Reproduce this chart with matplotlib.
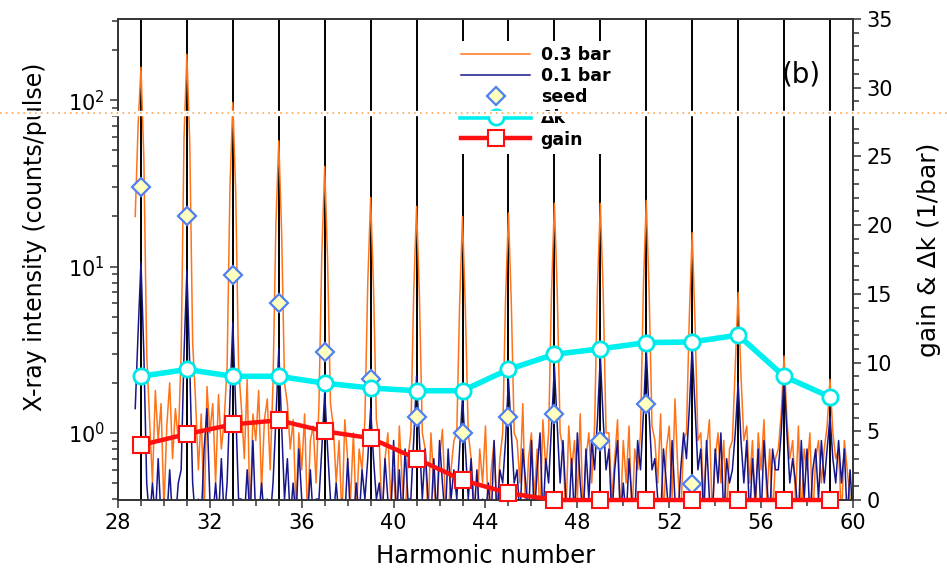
import numpy as np
import matplotlib
matplotlib.use("Agg")
import matplotlib.pyplot as plt
from matplotlib.lines import Line2D
from matplotlib.patches import Rectangle
from matplotlib.ticker import MultipleLocator, LogLocator, NullFormatter

# harmonic orders (odd) and per-harmonic quantities
harmonics = [29, 31, 33, 35, 37, 39, 41, 43, 45, 47, 49, 51, 53, 55, 57, 59]
seed_harmonics = [29, 31, 33, 35, 37, 39, 41, 43, 45, 47, 49, 51, 53]
seed = [29.9, 20.0, 8.95, 6.0, 3.05, 2.1, 1.24, 1.0, 1.25, 1.3, 0.9, 1.49, 0.49]
delta_k = [9.0, 9.5, 9.0, 9.0, 8.5, 8.15, 7.95, 7.95, 9.5, 10.6, 11.0, 11.45, 11.5, 12.0, 9.0, 7.5]
gain = [4.0, 4.8, 5.5, 5.8, 5.0, 4.5, 3.0, 1.45, 0.5, 0, 0, 0, 0, 0, 0, 0]

# spectra sampled every 1/8 harmonic starting at 28.75 (one row per harmonic)
spec_start = 28.75
spec_step = 0.125
counts_03bar = [
    20, 70, 158, 45, 3,     1.2, 0.5, 1.8, 0.9, 1.5, 0.35, 1.1, 2.0, 0.7, 1.4, 0.9,
    3, 60, 189, 55, 3.5,    1.6, 0.6, 1.3, 0.3, 1.9, 1.0, 1.5, 0.5, 1.7, 0.8, 1.2,
    2.5, 30, 97, 28, 2.5,   1.4, 0.7, 2.1, 0.3, 1.3, 0.9, 1.8, 0.45, 1.2, 1.6, 0.6,
    2, 18, 57, 16, 2,       1.5, 0.8, 1.2, 0.35, 1.0, 0.6, 1.3, 0.3, 0.9, 1.1, 0.5,
    1.5, 12, 40, 11, 1.5,   1.1, 0.5, 0.9, 0.3, 1.2, 0.7, 0.4, 1.0, 0.3, 0.8, 0.6,
    1.2, 8, 26, 7.5, 1.2,   0.9, 0.3, 0.7, 1.0, 0.4, 0.6, 0.3, 1.1, 0.5, 0.3, 0.7,
    1.0, 7, 23, 6.5, 1.0,   0.8, 0.3, 1.0, 0.5, 0.3, 0.7, 1.05, 0.4, 0.3, 0.6, 0.9,
    1.0, 6, 20, 5.5, 1.0,   0.7, 0.4, 0.3, 0.8, 0.5, 1.1, 0.3, 0.6, 0.9, 0.3, 0.7,
    1.0, 6.5, 21, 6, 1.0,   0.9, 0.5, 1.5, 0.3, 0.7, 1.0, 0.4, 0.8, 0.3, 1.2, 0.6,
    1.0, 7, 24, 7, 1.0,     0.8, 0.3, 1.1, 0.6, 0.9, 0.4, 1.3, 0.3, 0.7, 1.0, 0.5,
    1.1, 7.5, 24, 7, 1.0,   1.0, 0.4, 0.7, 1.2, 0.3, 0.9, 0.5, 1.1, 0.3, 0.8, 0.6,
    1.0, 7.5, 25, 7, 1.1,   0.9, 0.5, 1.3, 0.3, 0.8, 1.1, 0.4, 1.6, 0.6, 0.3, 0.9,
    1.0, 5, 16, 4.5, 0.9,   1.0, 0.4, 0.8, 1.2, 0.3, 0.7, 1.0, 0.5, 0.9, 0.3, 0.8,
    0.9, 2.5, 7, 2.2, 0.9,  1.1, 0.5, 0.9, 0.3, 1.0, 0.6, 1.2, 0.4, 0.8, 0.3, 0.7,
    0.8, 1.3, 2.9, 1.2, 0.7, 0.9, 0.4, 1.1, 0.3, 0.8, 0.6, 1.0, 0.3, 0.7, 0.9, 0.5,
    0.8, 1.1, 2.1, 1.0, 0.7, 0.8, 0.3, 0.9, 0.6, 0.4, 0.3, 0.8, 0.5, 0.3, 0.6, 0.4,
]
counts_01bar = [
    1.4, 4, 10.6, 3, 0.5,   0.3, 0.5, 0.3, 0.7, 0.3, 0.4, 0.3, 0.6, 0.3, 0.3, 0.5,
    0.6, 3, 9.5, 2.5, 0.5,  0.3, 0.4, 0.3, 0.8, 1.4, 0.4, 0.3, 0.5, 0.3, 0.7, 0.3,
    0.5, 1.6, 4.6, 1.4, 0.4, 0.4, 0.3, 0.6, 0.3, 0.9, 0.3, 0.3, 0.5, 0.3, 0.4, 0.3,
    0.5, 1.2, 3.2, 1.1, 0.4, 0.7, 0.3, 0.5, 0.3, 0.8, 0.4, 0.3, 0.3, 0.6, 0.3, 0.4,
    0.4, 0.8, 1.75, 0.8, 0.4, 0.3, 0.5, 0.3, 0.4, 0.3, 0.7, 0.3, 0.3, 0.5, 0.3, 0.6,
    0.4, 0.7, 1.4, 0.7, 0.4, 0.5, 0.3, 0.7, 0.4, 0.3, 0.9, 0.3, 0.6, 0.3, 0.8, 0.4,
    0.4, 0.9, 2.2, 0.9, 0.4, 0.8, 0.4, 0.3, 0.7, 0.3, 0.9, 0.5, 0.3, 0.8, 0.4, 0.6,
    0.4, 0.8, 1.65, 0.8, 0.4, 0.7, 0.3, 0.6, 0.3, 0.4, 0.3, 0.5, 0.3, 0.9, 0.3, 0.6,
    0.5, 0.9, 2.1, 1.0, 0.5, 0.6, 0.3, 0.8, 0.5, 0.3, 0.9, 0.3, 0.6, 1.0, 0.3, 0.7,
    0.5, 1.1, 2.5, 1.1, 0.5, 0.9, 0.4, 0.3, 0.7, 0.3, 1.0, 0.5, 0.3, 0.8, 0.4, 0.9,
    0.6, 1.2, 2.9, 1.2, 0.6, 0.8, 0.3, 0.6, 0.9, 0.3, 0.5, 0.3, 0.7, 0.4, 0.3, 0.9,
    0.6, 1.3, 3.2, 1.3, 0.6, 0.7, 0.4, 0.3, 0.8, 0.5, 0.3, 0.9, 0.4, 0.3, 0.6, 1.0,
    0.7, 1.4, 3.3, 1.4, 0.6, 0.8, 0.3, 0.9, 0.4, 0.3, 0.8, 0.5, 1.0, 0.3, 0.7, 0.5,
    0.6, 1.0, 2.0, 0.9, 0.5, 0.9, 0.3, 0.7, 0.4, 0.8, 0.3, 0.9, 0.5, 0.3, 0.8, 0.6,
    0.6, 1.0, 2.2, 1.0, 0.5, 0.7, 0.5, 0.3, 0.9, 0.4, 0.8, 0.3, 0.6, 0.8, 0.4, 0.9,
    0.5, 0.8, 1.25, 0.7, 0.5, 0.9, 0.5, 0.8, 0.3, 0.6, 0.3, 0.8, 0.4, 0.3, 0.5, 0.3,
]

spec_x = spec_start + spec_step * np.arange(len(counts_03bar))

plt.rcParams['font.family'] = ['DejaVu Sans']
fig = plt.figure(figsize=(9.47, 5.74), dpi=100)
ax = fig.add_axes([0.1246, 0.1289, 0.7761, 0.8381])
ax2 = ax.twinx()

for h in harmonics:
    ax.axvline(h, color='black', lw=1.4, zorder=1)

l_03, = ax.plot(spec_x, counts_03bar, color='#ff7419', lw=1.1, zorder=2, label='0.3 bar')
l_01, = ax.plot(spec_x, counts_01bar, color='#16168c', lw=1.1, zorder=3, label='0.1 bar')
l_seed, = ax.plot(seed_harmonics, seed, ls='none', marker='D', ms=9, mfc='#ffffc0',
                  mec='#5080f0', mew=1.6, zorder=4, label='seed')

ax.set_yscale('log')
ax.set_xlim(28, 60)
ax.set_ylim(0.395, 308)
ax.xaxis.set_major_locator(MultipleLocator(4))
ax.xaxis.set_minor_locator(MultipleLocator(1))
ax.yaxis.set_major_locator(LogLocator(base=10))
ax.yaxis.set_minor_locator(LogLocator(base=10, subs=np.arange(2, 10)))
ax.yaxis.set_minor_formatter(NullFormatter())
ax.tick_params(which='both', direction='out', labelsize=15, color='#333333', width=1.1)
ax.tick_params(which='major', length=6)
ax.tick_params(which='minor', length=4)
ax.set_xlabel('Harmonic number', fontsize=17.5, labelpad=8)
ax.set_ylabel('X-ray intensity (counts/pulse)', fontsize=17)
ax.yaxis.set_label_coords(-0.097, 0.547)

l_dk, = ax2.plot(harmonics, delta_k, color='#00f0f0', lw=4, marker='o', ms=11,
                 mfc='white', mec='#00e8e8', mew=2, zorder=5, label='Δk')
l_gain, = ax2.plot(harmonics, gain, color='#ff1010', lw=3.2, marker='s', ms=12,
                   mfc='white', mec='#ff1010', mew=1.5, zorder=6, clip_on=False,
                   label='gain')
ax2.set_ylim(0, 35)
ax2.yaxis.set_major_locator(MultipleLocator(5))
ax2.yaxis.set_minor_locator(MultipleLocator(1))
ax2.tick_params(which='both', direction='out', labelsize=15, color='#333333', width=1.1)
ax2.tick_params(which='major', length=6)
ax2.tick_params(which='minor', length=4)
ax2.set_ylabel('gain & Δk (1/bar)', fontsize=18)
ax2.yaxis.set_label_coords(1.087, 0.52)

for a in (ax, ax2):
    for s in a.spines.values():
        s.set_color('#333333')
        s.set_linewidth(1.2)

leg = ax2.legend(handles=[l_03, l_01, l_seed, l_dk, l_gain], loc='upper left',
                 bbox_to_anchor=(0.472, 0.944), bbox_transform=fig.transFigure,
                 prop={'weight': 'bold', 'size': 12.5}, handlelength=4.0,
                 handletextpad=0.6, labelspacing=0.18, borderpad=0.3,
                 frameon=True, fancybox=False, framealpha=1, edgecolor='none')
leg.set_zorder(10)

ax2.text(0.93, 0.885, '(b)', transform=ax2.transAxes, fontsize=20,
         ha='center', va='center', zorder=11)

# horizontal glitch band present in the source image
fig.patches.append(Rectangle((0, 0.800), 1, 0.006, transform=fig.transFigure,
                             color='white', zorder=20))
fig.add_artist(Line2D([0, 1], [0.803, 0.803], transform=fig.transFigure,
                      color='#ffa64d', lw=1.2, ls=(0, (1, 2.5)), zorder=21))

fig.savefig('out.png', dpi=100)
